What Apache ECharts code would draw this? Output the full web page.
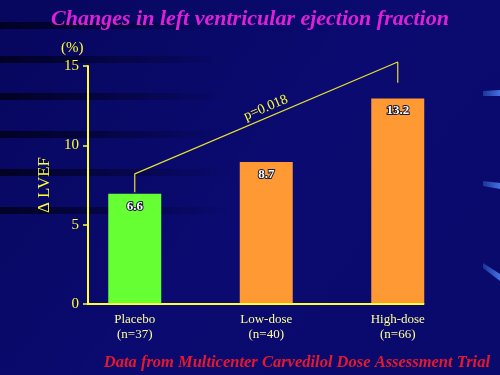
<!DOCTYPE html>
<html><head><meta charset="utf-8">
<script src="https://cdn.jsdelivr.net/npm/echarts@6/dist/echarts.min.js"></script>
<style>html,body{margin:0;padding:0;background:#08086c}#c{width:500px;height:375px}</style>
</head><body><div id="c"></div>
<script>
const categories = ['Placebo\n(n=37)', 'Low-dose\n(n=40)', 'High-dose\n(n=66)'];
const barHeights = [6.95, 8.95, 12.95];
const valueLabels = ['6.6', '8.7', '13.2'];
const barColors = ['#66ff33', '#ff9933', '#ff9933'];
const yMin = 0, yMax = 15, yStep = 5;
const bracketX = [0, 0, 2, 2];
const bracketY = [7.05, 8.2, 15.25, 13.95];
const pLabel = 'p=0.018';
const titleText = 'Changes in left ventricular ejection fraction';
const footText = 'Data from Multicenter Carvedilol Dose Assessment Trial';

const SERIF = "'Liberation Serif','Times New Roman',serif";
const YEL = '#ffff33';
const gridLeft = 69, yOffset = -19, barW = 53;

const chart = echarts.init(document.getElementById('c'), null, {renderer: 'canvas'});

const streakYs = [22, 56, 93, 131, 169, 207];
const streaks = streakYs.map((y, i) => ({
  type: 'rect', z: -5, silent: true,
  shape: {x: 0, y: y, width: 230, height: 7},
  style: {fill: new echarts.graphic.LinearGradient(0, 0, 1, 0, [
    {offset: 0, color: 'rgba(0,0,20,0.8)'},
    {offset: 0.45, color: 'rgba(0,0,25,0.45)'},
    {offset: 1, color: 'rgba(0,0,25,0)'}])}
}));
const dashes = [
  [[483, 91], [500, 90], [500, 96], [483, 96]],
  [[483, 181], [500, 183], [500, 189], [483, 186]],
  [[483, 263], [500, 274], [500, 281], [483, 268]]
].map(pts => ({
  type: 'polygon', z: -4, silent: true,
  shape: {points: pts},
  style: {fill: new echarts.graphic.LinearGradient(0, 0, 1, 0, [
    {offset: 0, color: '#1a3499'}, {offset: 1, color: '#4470e0'}])}
}));

chart.setOption({
  animation: false,
  backgroundColor: new echarts.graphic.LinearGradient(0, 0, 1, 1, [
    {offset: 0, color: '#07075e'}, {offset: 0.5, color: '#0a0a70'}, {offset: 1, color: '#0a0a6c'}]),
  title: [
    {text: titleText, left: 'center', top: 3,
     textStyle: {fontFamily: SERIF, fontSize: 22, fontWeight: 'bold', fontStyle: 'italic', color: '#e020d8'}},
    {text: '(%)', left: 56, top: 36,
     textStyle: {fontFamily: SERIF, fontSize: 15, fontWeight: 'normal', color: YEL}},
    {text: footText, right: 5, top: 349,
     textStyle: {fontFamily: SERIF, fontSize: 16.5, fontWeight: 'bold', fontStyle: 'italic', color: '#e8182c'}}
  ],
  grid: {left: gridLeft, right: 500 - gridLeft - 394.5, top: 66, bottom: 71},
  xAxis: {
    type: 'category', data: categories,
    axisLine: {show: false}, axisTick: {show: false},
    axisLabel: {fontFamily: SERIF, fontSize: 13, color: '#ffff99', lineHeight: 15, margin: 8}
  },
  yAxis: {
    type: 'value', min: yMin, max: yMax, interval: yStep, offset: yOffset,
    name: 'Δ LVEF', nameLocation: 'middle', nameRotate: 90, nameGap: 34,
    nameTextStyle: {fontFamily: SERIF, fontSize: 17, color: YEL},
    axisLine: {show: true, lineStyle: {color: YEL, width: 2}},
    axisTick: {show: true, length: 5, lineStyle: {color: YEL, width: 1.5}},
    axisLabel: {fontFamily: SERIF, fontSize: 15, color: YEL, margin: 9},
    splitLine: {show: false}
  },
  graphic: {elements: streaks.concat(dashes)},
  series: [{
    type: 'bar', barWidth: barW,
    data: barHeights.map((v, i) => ({value: v, itemStyle: {color: barColors[i]}})),
    label: {
      show: true, position: 'insideTop', distance: 6,
      formatter: p => valueLabels[p.dataIndex],
      fontFamily: SERIF, fontSize: 13, fontWeight: 'bold', color: '#ffffff',
      textBorderColor: '#1a1a30', textBorderWidth: 2
    }
  }, {
    type: 'line', clip: false, symbol: 'none', silent: true,
    lineStyle: {color: '#e6e030', width: 1.2},
    data: bracketX.map((x, i) => [x, bracketY[i]])
  }]
});

const yAxisX = gridLeft - yOffset;
const baseY = chart.convertToPixel({yAxisIndex: 0}, yMin);
const endX = chart.convertToPixel({xAxisIndex: 0}, categories.length - 1) + barW / 2;
const p1 = chart.convertToPixel({gridIndex: 0}, [bracketX[1], bracketY[1]]);
const p2 = chart.convertToPixel({gridIndex: 0}, [bracketX[2], bracketY[2]]);
const ang = Math.atan2(p1[1] - p2[1], p2[0] - p1[0]);
const mx = (p1[0] + p2[0]) / 2, my = (p1[1] + p2[1]) / 2;
const off = 11;
chart.setOption({graphic: {elements: [{
  id: 'baseline', type: 'line', z: 5, silent: true,
  shape: {x1: yAxisX - 1, y1: baseY, x2: endX, y2: baseY},
  style: {stroke: YEL, lineWidth: 2}
}, {
  id: 'plabel', type: 'text', z: 6, silent: true,
  x: mx - off * Math.sin(ang) + 4, y: my - off * Math.cos(ang),
  rotation: ang,
  style: {text: pLabel, fill: YEL, font: '14px ' + SERIF, align: 'center', verticalAlign: 'middle'}
}]}});
</script></body></html>
